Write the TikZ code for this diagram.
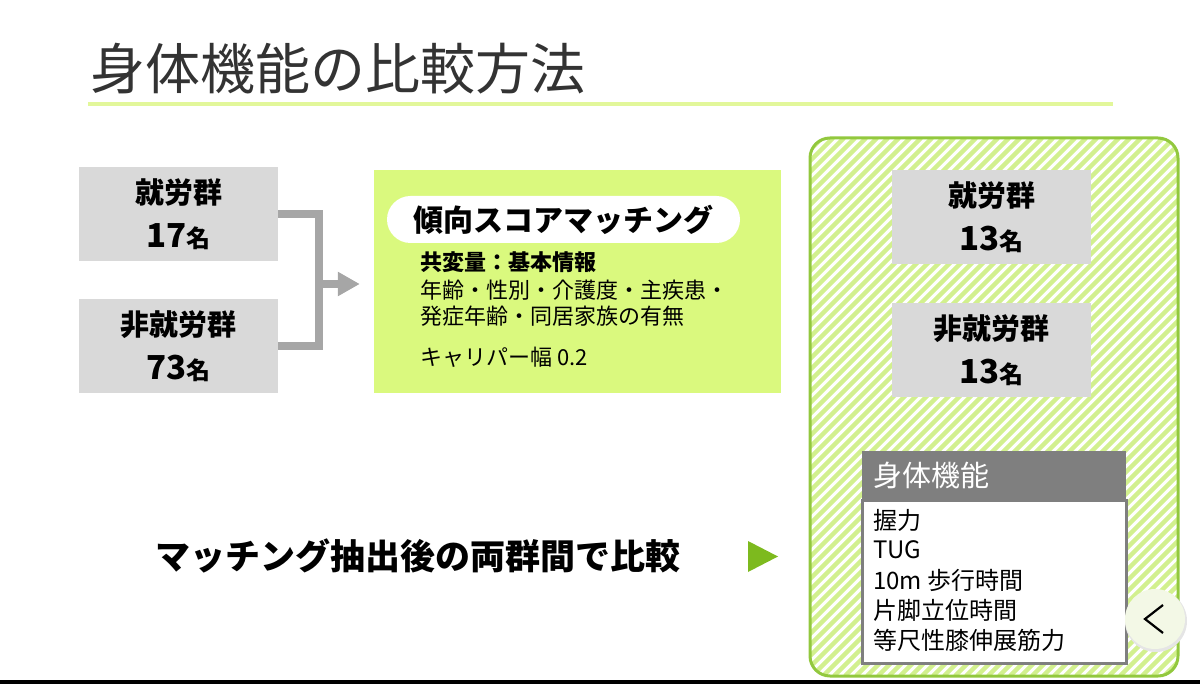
\documentclass[tikz,border=0pt]{standalone}
\usepackage{fontspec}
\newfontfamily\cjk{Noto Sans CJK JP}
\usetikzlibrary{arrows.meta}

\definecolor{boxgray}{HTML}{D9D9D9}
\definecolor{linkgray}{HTML}{A6A6A6}
\definecolor{limefill}{HTML}{DAF97E}
\definecolor{titleline}{HTML}{E2F79A}
\definecolor{framegreen}{HTML}{92C83E}
\definecolor{hatchlime}{HTML}{D2F08E}
\definecolor{headgray}{HTML}{7F7F7F}
\definecolor{trigreen}{HTML}{7DBA1E}
\definecolor{navfill}{HTML}{F3F8E6}

\begin{document}
\begin{tikzpicture}[
  x=1pt, y=-1pt, font=\cjk,
  grp/.style={fill=boxgray, minimum width=199pt, minimum height=94pt,
              align=center, inner sep=0pt,
              font=\cjk\bfseries\fontsize{29}{44}\selectfont},
  bracket/.style={draw=linkgray, line width=8pt},
  txt/.style={anchor=west, inner sep=0pt, font=\cjk\fontsize{22}{26}\selectfont},
  item/.style={anchor=west, inner sep=0pt, font=\cjk\fontsize{24}{28}\selectfont},
  hatch/.style={draw=hatchlime, line width=4.5pt}
]
\useasboundingbox (0,0) rectangle (1200,684);

%% Title
\node[anchor=west, inner sep=0pt, text=black!80,
      font=\cjk\fontsize{55}{60}\selectfont] (title) at (90,69) {身体機能の比較方法};
\draw[titleline, line width=4pt] (88,104) -- (1113,104);

%% Groups before matching
\node[grp] (grpA) at (178.5,214)
  {就労群\\{\fontsize{33}{44}\selectfont 17}{\fontsize{24}{44}\selectfont 名}};
\node[grp] (grpB) at (178.5,346)
  {非就労群\\{\fontsize{33}{44}\selectfont 73}{\fontsize{24}{44}\selectfont 名}};

%% Propensity score matching
\node[fill=limefill, minimum width=407pt, minimum height=223pt] (psm) at (577.5,281.5) {};
\node[fill=white, rounded corners=23.5pt, minimum width=353pt, minimum height=47pt,
      inner sep=0pt, font=\cjk\bfseries\fontsize{30}{32}\selectfont] (pill) at (563.5,219.5)
  {傾向スコアマッチング};
\node[txt, font=\cjk\bfseries\fontsize{22}{26}\selectfont] (covT) at (420,262) {共変量：基本情報};
\node[txt] (cov1) at (420,290) {年齢・性別・介護度・主疾患・};
\node[txt] (cov2) at (420,316) {発症年齢・同居家族の有無};
\node[txt] (cal) at (420,357) {キャリパー幅 0.2};

%% Bracket and arrow
\coordinate (jn) at (319,284);
\draw[bracket] (grpA.east) -- (grpA.east -| jn) -- (grpB.east -| jn) -- (grpB.east);
\draw[bracket, -{Triangle[length=22pt, width=23pt]}, shorten >=14pt]
  (jn) -- (jn -| psm.west);

%% After matching (hatched frame)
\begin{scope}
  \clip[rounded corners=20pt] (810,138) rectangle (1178,676);
  \foreach \x in {262,273,...,1190}{
    \draw[hatch] (\x,676) -- ++(538,-538);
  }
\end{scope}
\node[draw=framegreen, line width=3pt, rounded corners=20pt,
      minimum width=368pt, minimum height=538pt] (after) at (994,407) {};

\node[grp] (mA) at (991.5,217.5)
  {就労群\\{\fontsize{33}{44}\selectfont 13}{\fontsize{24}{44}\selectfont 名}};
\node[grp] (mB) at (991.5,350.5)
  {非就労群\\{\fontsize{33}{44}\selectfont 13}{\fontsize{24}{44}\selectfont 名}};

%% Physical function table
\node[fill=white, draw=headgray, line width=3pt, minimum width=264pt,
      minimum height=163pt] (fbody) at (994,581.5) {};
\node[fill=headgray, minimum width=264pt, minimum height=49pt] (fhead) at (994,475.5) {};
\node[anchor=west, inner sep=0pt, text=white,
      font=\cjk\fontsize{29}{32}\selectfont] (fheadT) at (873,475) {身体機能};
\foreach \t [count=\i] in {握力, TUG, 10m 歩行時間, 片脚立位時間, 等尺性膝伸展筋力}{
  \node[item] (f\i) at (873,490+30*\i) {\t};
}

%% Comparison
\node[anchor=west, inner sep=0pt, font=\cjk\bfseries\fontsize{35}{40}\selectfont]
  (cmp) at (155,556) {マッチング抽出後の両群間で比較};
\fill[trigreen] (748,541) -- (748,572) -- (778,556.5) -- cycle;

%% Slide nav button and bottom edge
\fill[black!10] (1156,621) circle (31pt);
\fill[navfill] (1155,619) circle (30pt);
\draw[line width=2.2pt, line join=miter] (1163,605) -- (1145,619) -- (1163,633);
\fill[black] (0,680) rectangle (1200,684);

\end{tikzpicture}
\end{document}
